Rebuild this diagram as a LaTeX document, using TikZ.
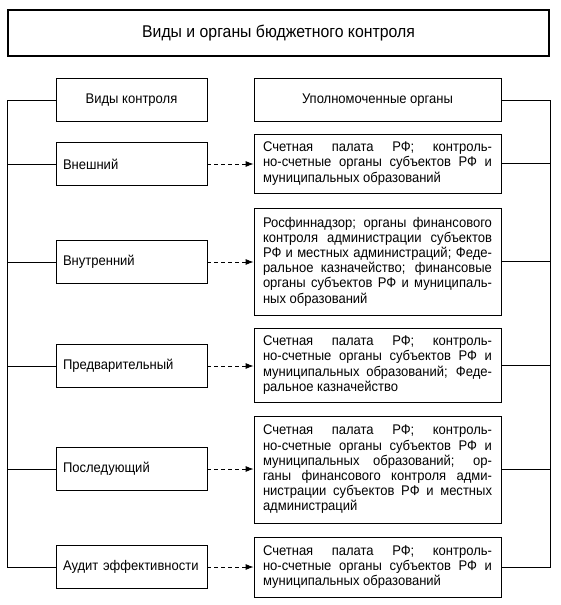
\documentclass[tikz,border=0pt]{standalone}
\usepackage{fontspec}
\setmainfont[FakeStretch=0.93]{Liberation Sans}
\usetikzlibrary{arrows.meta}
\begin{document}
\begin{tikzpicture}[x=1pt,y=-1pt,
  font=\fontsize{14}{15.2}\selectfont,
  box/.style={draw, line width=0.8pt, inner sep=0pt},
  lbox/.style={box, minimum width=151pt, minimum height=43pt, text width=137pt, align=left},
  hbox/.style={box, minimum height=43pt, align=center},
  rbox/.style={box, minimum width=247pt, text width=229pt, align=justify,
     execute at begin node={\hyphenpenalty=10000\exhyphenpenalty=10000}},
  bus/.style={line width=0.8pt},
  darrow/.style={line width=0.8pt, dash pattern=on 4pt off 3pt, -{Latex[length=8pt,width=6pt]}}
]
\useasboundingbox (0,0) rectangle (560,605);
\node[draw, line width=1.6pt, minimum width=541pt, minimum height=46pt, font=\fontsize{17}{20}\selectfont] (t) at (278.5,33) {Виды и органы бюджетного контроля};

\node[hbox, minimum width=151pt] (v0) at (131.5,100) {Виды контроля};
\node[hbox, minimum width=247pt] (r0) at (377.5,100) {Уполномоченные органы};

\node[lbox] (v1) at (131.5,164) {Внешний};
\node[lbox] (v2) at (131.5,262) {Внутренний};
\node[lbox] (v3) at (131.5,366) {Предварительный};
\node[lbox] (v4) at (131.5,469) {Последующий};
\node[lbox] (v5) at (131.5,567) {Аудит эффективности};

\node[rbox, minimum height=59pt] (r1) at (377.5,163.5) {Счетная палата РФ; контроль-\linebreak но-счетные органы субъектов РФ и\linebreak муниципальных образований};
\node[rbox, minimum height=107pt] (r2) at (377.5,261.5) {Росфиннадзор; органы финансового\linebreak контроля администрации субъектов\linebreak РФ и местных администраций; Феде-\linebreak ральное казначейство; финансовые\linebreak органы субъектов РФ и муниципаль-\linebreak ных образований};
\node[rbox, minimum height=74pt] (r3) at (377.5,365) {Счетная палата РФ; контроль-\linebreak но-счетные органы субъектов РФ и\linebreak муниципальных образований; Феде-\linebreak ральное казначейство};
\node[rbox, minimum height=107pt] (r4) at (377.5,469.5) {Счетная палата РФ; контроль-\linebreak но-счетные органы субъектов РФ и\linebreak муниципальных образований; ор-\linebreak ганы финансового контроля адми-\linebreak нистрации субъектов РФ и местных\linebreak администраций};
\node[rbox, minimum height=60pt] (r5) at (377.5,567) {Счетная палата РФ; контроль-\linebreak но-счетные органы субъектов РФ и\linebreak муниципальных образований};

\coordinate (L) at (7,0);
\coordinate (R) at (550,0);
\draw[bus] (v0.west) -- (v0.west -| L) -- (v5.west -| L) -- (v5.west);
\foreach \i in {1,2,3,4} \draw[bus] (v\i.west) -- (v\i.west -| L);
\draw[bus] (r0.east) -- (r0.east -| R) -- (r5.east -| R) -- (r5.east);
\foreach \i in {1,2,3,4} \draw[bus] (r\i.east) -- (r\i.east -| R);

\foreach \i in {1,...,5} \draw[darrow] (v\i.east) -- (v\i.east -| r\i.west);
\end{tikzpicture}
\end{document}
